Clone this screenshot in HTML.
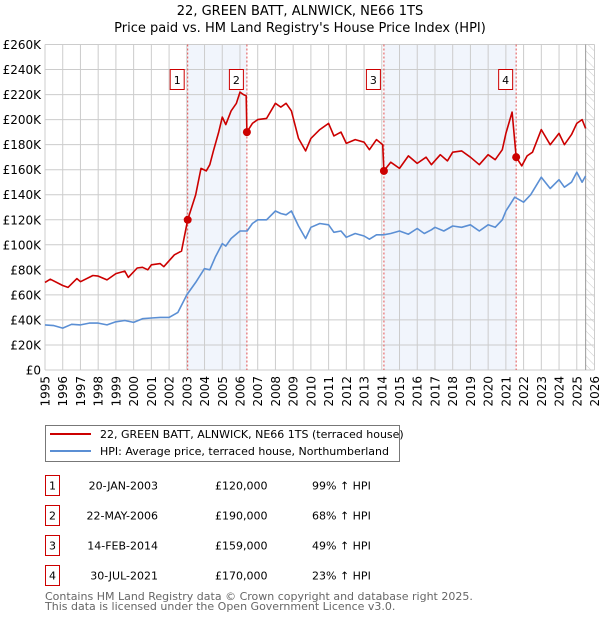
<!DOCTYPE html>
<html><head><meta charset="utf-8"><style>
body{margin:0;background:#fff;font-family:"Liberation Sans","DejaVu Sans",sans-serif;}
svg text{font-family:"DejaVu Sans","Liberation Sans",sans-serif;}
</style></head><body>
<svg id="c" width="600" height="620" viewBox="0 0 600 620" xmlns="http://www.w3.org/2000/svg">
<defs><pattern id="hatch" width="6" height="6" patternUnits="userSpaceOnUse" patternTransform="rotate(-45)"><line x1="0" y1="0" x2="0" y2="6" stroke="#ccc" stroke-width="1"/></pattern></defs>
<text x="300" y="15" text-anchor="middle" font-size="13">22, GREEN BATT, ALNWICK, NE66 1TS</text>
<text x="300" y="32" text-anchor="middle" font-size="13">Price paid vs. HM Land Registry's House Price Index (HPI)</text>
<g id="plot"></g>
<g>
<rect x="45.5" y="425.5" width="354" height="36" fill="#fff" stroke="#777"/>
<line x1="50" y1="434" x2="91" y2="434" stroke="#cc0000" stroke-width="2"/>
<text x="100" y="438" font-size="11">22, GREEN BATT, ALNWICK, NE66 1TS (terraced house)</text>
<line x1="50" y1="451" x2="91" y2="451" stroke="#5b8fd4" stroke-width="2"/>
<text x="100" y="455" font-size="11">HPI: Average price, terraced house, Northumberland</text>
</g>
<g id="tbl" font-size="11"></g>
<text x="45" y="600" font-size="11" fill="#666">Contains HM Land Registry data © Crown copyright and database right 2025.</text>
<text x="45" y="610" font-size="11" fill="#666">This data is licensed under the Open Government Licence v3.0.</text>
</svg>
<script>
const hpiX=[1995,1995.5,1996,1996.5,1997,1997.5,1998,1998.5,1999,1999.5,2000,2000.5,2001,2001.5,2002,2002.5,2003,2003.5,2004,2004.3,2004.6,2005,2005.2,2005.5,2006,2006.4,2006.7,2007,2007.5,2008,2008.3,2008.6,2008.9,2009.3,2009.7,2010,2010.5,2011,2011.3,2011.7,2012,2012.5,2013,2013.3,2013.7,2014.1,2014.5,2015,2015.5,2016,2016.4,2016.8,2017,2017.5,2018,2018.5,2019,2019.5,2020,2020.4,2020.8,2021,2021.5,2022,2022.4,2023,2023.5,2024,2024.3,2024.7,2025,2025.3,2025.5];
const hpiY=[36,35.5,33.5,36.5,36,37.5,37.5,36,38.5,39.5,38,41,41.5,42,42,46,60,70,81,80,90,101,99,105,111,111,117,120,120,127,125,124,127,115,105,114,117,116,110,111,106,109,107,104.5,108,108,109,111,108.5,113,109,112,114,111,115,114,116,111,116,114,120,127,138,134,140,154,145,152,146,150,158,150,155];
const redX=[1995,1995.3,1996,1996.3,1996.8,1997,1997.7,1998,1998.5,1999,1999.5,1999.7,2000.2,2000.5,2000.8,2001,2001.5,2001.7,2002.3,2002.7,2003.05,2003.5,2003.8,2004.1,2004.3,2004.5,2004.8,2005,2005.2,2005.5,2005.8,2006,2006.2,2006.35,2006.39,2006.7,2007,2007.5,2008,2008.3,2008.6,2008.9,2009.3,2009.7,2010,2010.5,2011,2011.3,2011.7,2012,2012.5,2013,2013.3,2013.7,2014.05,2014.12,2014.5,2015,2015.5,2016,2016.5,2016.8,2017.3,2017.7,2018,2018.5,2019,2019.5,2020,2020.4,2020.8,2021,2021.35,2021.58,2021.9,2022.2,2022.5,2023,2023.5,2024,2024.3,2024.7,2025,2025.3,2025.5];
const redY=[70,72.5,67.5,66,73,70.5,75.5,75,72,77,79,74,81.5,82,80,84,85,82.5,92,95,120,140,161,159,164,175,190,202,196,207,213,222,220,219,190,197,200,201,213,210,213,207,185,175,185,192,197,187,190,181,184,182,176,184,180,159,166,161,171,165,170,164,172,167,174,175,170,164,172,168,176,189,206,170,163,171,174,192,180,189,180,188,197,200,193];
const saleX=[2003.05,2006.39,2014.12,2021.58];
const saleY=[120,190,159,170];
const saleLabels=['1','2','3','4'];
const saleDates=['20-JAN-2003','22-MAY-2006','14-FEB-2014','30-JUL-2021'];
const salePrices=['£120,000','£190,000','£159,000','£170,000'];
const salePct=['99% ↑ HPI','68% ↑ HPI','49% ↑ HPI','23% ↑ HPI'];
const yTicks=[0,20,40,60,80,100,120,140,160,180,200,220,240,260];
const xTicks=[];for(let y=1995;y<=2026;y++)xTicks.push(y);
const dataEnd=2025.5;

const NS='http://www.w3.org/2000/svg';
const L=45,R=594.5,T=44.5,B=370;
const sx=v=>L+(v-1995)/31*(R-L);
const sy=v=>B-v/260*(B-T);
const plot=document.getElementById('plot');
function mk(tag,at,parent){const e=document.createElementNS(NS,tag);for(const k in at)e.setAttribute(k,at[k]);(parent||plot).appendChild(e);return e;}
for(let i=0;i<4;i+=2){const r=mk('rect',{x:sx(saleX[i]),y:T,width:sx(saleX[i+1])-sx(saleX[i]),height:B-T,fill:'#edf2fb',opacity:0.8});

}
const h=mk('rect',{x:sx(dataEnd),y:T,width:R-sx(dataEnd),height:B-T,fill:'url(#hatch)'});


yTicks.forEach(t=>{const g=mk('line',{x1:L,x2:R,y1:sy(t),y2:sy(t),stroke:'#cccccc'});


const tx=mk('text',{x:L-4,y:sy(t)+4.5,'text-anchor':'end','font-size':12});tx.textContent=t===0?'£0':'£'+t+'K';

});
xTicks.forEach(t=>{const g=mk('line',{x1:sx(t),x2:sx(t),y1:T,y2:B,stroke:'#cccccc'});


const tx=mk('text',{x:0,y:0,'text-anchor':'end','font-size':12,transform:`translate(${sx(t)+4.5},${B+6}) rotate(-90)`});tx.textContent=t;

});
const de=mk('line',{x1:sx(dataEnd),x2:sx(dataEnd),y1:T,y2:B,stroke:'#999'});


saleX.forEach((s,i)=>{const l=mk('line',{x1:sx(s),x2:sx(s),y1:T,y2:B,stroke:'#e05050','stroke-dasharray':'2,2','stroke-width':1});

});
function path(xs,ys,col,name){const n=Math.min(xs.length,ys.length);const d=xs.slice(0,n).map((x,i)=>(i?'L':'M')+sx(x).toFixed(1)+','+sy(ys[i]).toFixed(1)).join('');
const p=mk('path',{d:d,fill:'none',stroke:col,'stroke-width':1.6,'stroke-linejoin':'round'});

}
path(hpiX,hpiY,'#5b8fd4','hpi-line');
path(redX,redY,'#cc0000','property-line');
saleX.forEach((s,i)=>{const c=mk('circle',{cx:sx(s),cy:sy(saleY[i]),r:4,fill:'#cc0000'});


const b=mk('rect',{x:sx(s)-17.5,y:69.5,width:14,height:20,fill:'#fff',stroke:'#cc0000'});


const t=mk('text',{x:sx(s)-10.5,y:84,'text-anchor':'middle','font-size':11});t.textContent=saleLabels[i];

});
const tbl=document.getElementById('tbl');
saleLabels.forEach((n,i)=>{const y=475.5+i*30;
const b=mk('rect',{x:45.5,y:y,width:14,height:20,fill:'#fff',stroke:'#cc0000'},tbl);


const cells=[[52.5,n,'middle','row-number'],[158,saleDates[i],'end','row-date'],[215,salePrices[i],'start','row-price'],[312,salePct[i],'start','row-hpi-diff']];
cells.forEach(c=>{const t=mk('text',{x:c[0],y:y+14,'text-anchor':c[2]},tbl);t.textContent=c[1];

});});
</script>
</body></html>
